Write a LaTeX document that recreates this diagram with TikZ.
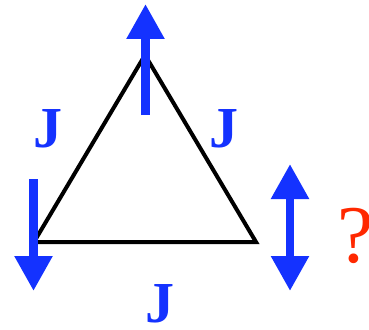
\documentclass[tikz,border=0pt]{standalone}
\usepackage{fontspec}
\setmainfont{Liberation Serif}
\usetikzlibrary{arrows.meta}
\definecolor{spinblue}{RGB}{20,50,255}
\definecolor{qred}{RGB}{255,40,0}
\tikzset{
  spin/.style={draw=spinblue, line width=8.5pt, -{Triangle[width=36pt,length=35pt]}, color=spinblue},
  spinboth/.style={draw=spinblue, line width=8.5pt, {Triangle[width=36pt,length=35pt]}-{Triangle[width=36pt,length=35pt]}, color=spinblue},
  bond/.style={draw=black, line width=4pt, line join=miter},
  jlabel/.style={text=spinblue, font=\fontsize{58}{58}\selectfont\bfseries, inner sep=0pt},
  qlabel/.style={text=qred, font=\fontsize{82}{82}\selectfont, inner sep=0pt}
}
\begin{document}
\begin{tikzpicture}[x=1pt,y=-1pt]
\useasboundingbox (0,0) rectangle (369,329);
\coordinate (top) at (145,55);
\coordinate (bl) at (34,242);
\coordinate (br) at (256,242);
\draw[bond] (top) -- (bl) -- (br) -- cycle;
% spins
\coordinate (s1a) at (145.5,115);
\coordinate (s1b) at (145.5,4);
\coordinate (s2a) at (33.5,179);
\coordinate (s2b) at (33.5,291);
\coordinate (s3a) at (290,164);
\coordinate (s3b) at (290,291);
\draw[spin] (s1a) -- (s1b);
\draw[spin] (s2a) -- (s2b);
\draw[spinboth] (s3a) -- (s3b);
% labels
\node[jlabel] (j1) at (48,129) {J};
\node[jlabel] (j2) at (224,129) {J};
\node[jlabel] (j3) at (160,304) {J};
\node[qlabel] (q) at (356,236) {?};
\end{tikzpicture}
\end{document}
